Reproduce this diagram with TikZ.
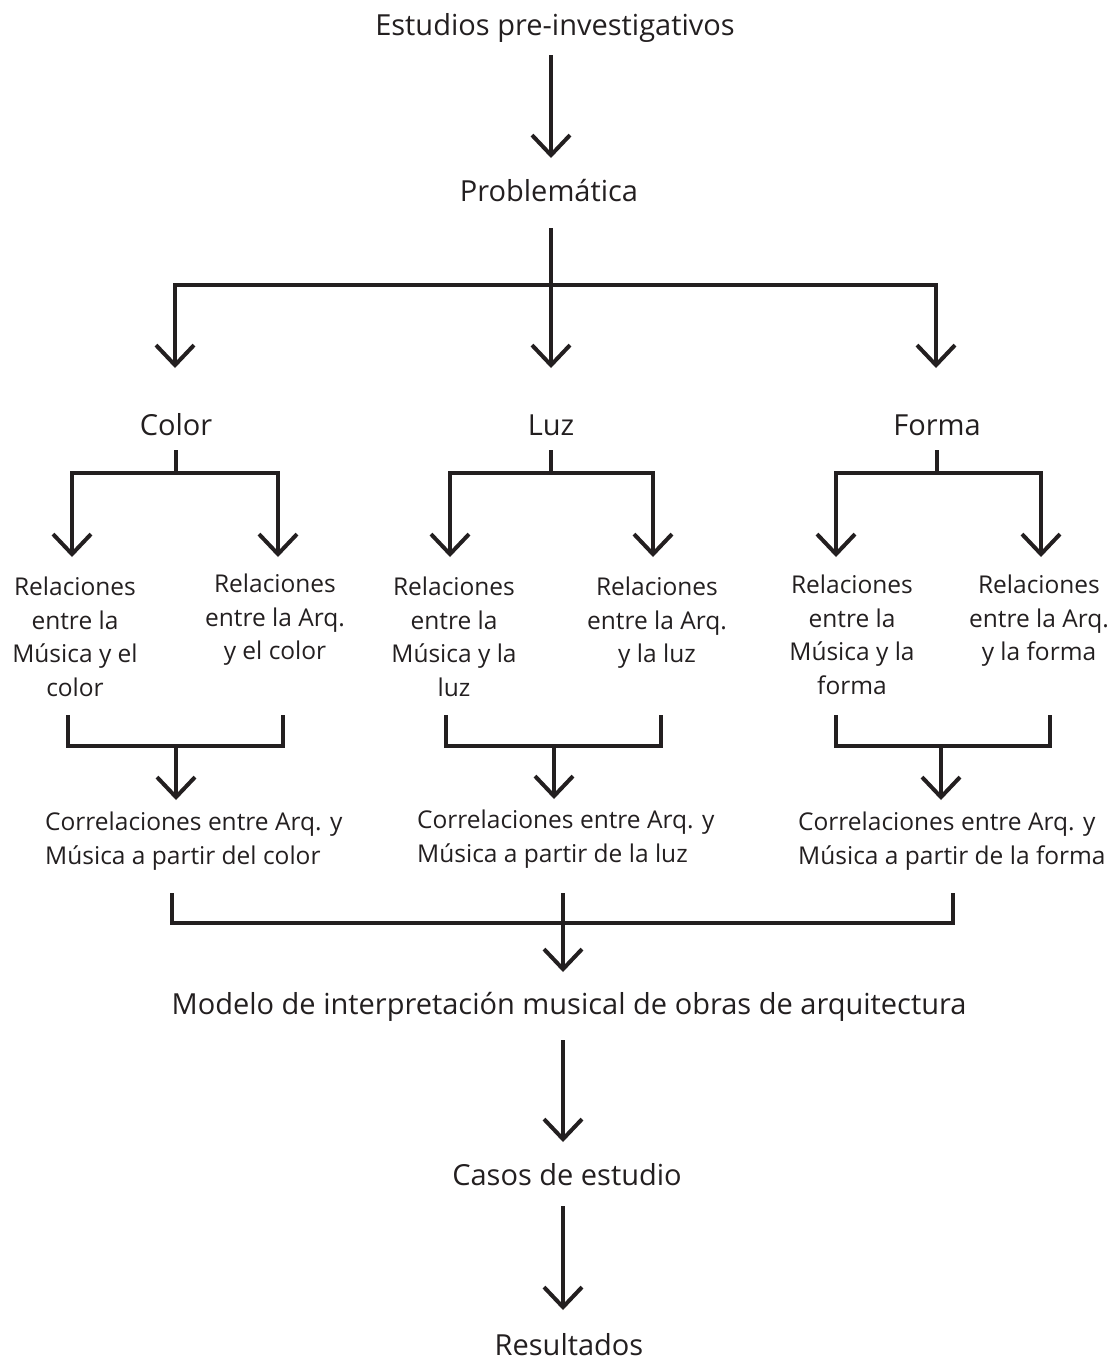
\documentclass[tikz,border=0pt]{standalone}
\usepackage{fontspec}
\setmainfont{Open Sans}
\usetikzlibrary{arrows.meta}
\definecolor{ink}{HTML}{231F20}
\begin{document}
\begin{tikzpicture}[x=1pt,y=-1pt,
  every node/.style={inner sep=0pt, text=ink},
  big/.style={font=\fontsize{29}{34}\selectfont, anchor=base},
  small/.style={font=\fontsize{24.5}{33.5}\selectfont, align=center, anchor=base},
  corr/.style={font=\fontsize{24.5}{33.5}\selectfont, align=left, anchor=base west},
  link/.style={draw=ink, line width=4pt, line join=miter},
  arr/.style={link, -{Straight Barb[length=20pt,width=38pt]}}]
\useasboundingbox (0,0) rectangle (1115,1361);

% labels (multi-line nodes are placed by the baseline of their last line)
\node[big] (est) at (555,35) {Estudios pre-investigativos};
\node[big] (prob) at (549,201) {Problemática};
\node[big] (color) at (176,435) {Color};
\node[big] (luz) at (551,435) {Luz};
\node[big] (forma) at (937,435) {Forma};
\node[small] (rmc) at (75,696) {Relaciones\\entre la\\Música y el\\color};
\node[small] (rac) at (275,659.5) {Relaciones\\entre la Arq.\\y el color};
\node[small] (rml) at (454,696) {Relaciones\\entre la\\Música y la\\luz};
\node[small] (ral) at (657,662.5) {Relaciones\\entre la Arq.\\y la luz};
\node[small] (rmf) at (852,694) {Relaciones\\entre la\\Música y la\\forma};
\node[small] (raf) at (1039,660.5) {Relaciones\\entre la Arq.\\y la forma};
\node[corr] (cc) at (45,864) {Correlaciones entre Arq. y\\Música a partir del color};
\node[corr] (cl) at (417,862) {Correlaciones entre Arq. y\\Música a partir de la luz};
\node[corr] (cf) at (798,864) {Correlaciones entre Arq. y\\Música a partir de la forma};
\node[big] (mod) at (569,1014) {Modelo de interpretación musical de obras de arquitectura};
\node[big] (casos) at (567,1185) {Casos de estudio};
\node[big] (res) at (569,1355) {Resultados};

% junction points
\coordinate (estOut) at (551,55);
\coordinate (probIn) at (551,158);
\coordinate (probOut) at (551,228);
\coordinate (hubA) at (551,285);
\coordinate (colorIn) at (175,368);
\coordinate (luzIn) at (551,368);
\coordinate (formaIn) at (936,368);

\coordinate (colorOut) at (176,450);
\coordinate (colorHub) at (176,473);
\coordinate (rmcIn) at (72,557);
\coordinate (racIn) at (278,557);
\coordinate (luzOut) at (551,450);
\coordinate (luzHub) at (551,473);
\coordinate (rmlIn) at (450,557);
\coordinate (ralIn) at (653,557);
\coordinate (formaOut) at (937,450);
\coordinate (formaHub) at (937,473);
\coordinate (rmfIn) at (836,557);
\coordinate (rafIn) at (1041,557);

\coordinate (rmcOut) at (68,715);
\coordinate (racOut) at (283,715);
\coordinate (ccHub) at (176,746);
\coordinate (ccIn) at (176,800);
\coordinate (rmlOut) at (446,715);
\coordinate (ralOut) at (661,715);
\coordinate (clHub) at (554,746);
\coordinate (clIn) at (554,799);
\coordinate (rmfOut) at (836,715);
\coordinate (rafOut) at (1050,715);
\coordinate (cfHub) at (941,746);
\coordinate (cfIn) at (941,800);

\coordinate (ccOut) at (172,893);
\coordinate (cfOut) at (953,893);
\coordinate (clOut) at (563,893);
\coordinate (modHub) at (563,923);
\coordinate (modIn) at (563,972);
\coordinate (modOut) at (563,1040);
\coordinate (casosIn) at (563,1142);
\coordinate (casosOut) at (563,1206);
\coordinate (resIn) at (563,1310);

% connectors
\draw[arr] (estOut) -- (probIn);
\draw[arr] (probOut) -- (luzIn);
\draw[arr] (hubA) -| (colorIn);
\draw[arr] (hubA) -| (formaIn);

\draw[link] (colorOut) -- (colorHub);
\draw[arr] (colorHub) -| (rmcIn);
\draw[arr] (colorHub) -| (racIn);
\draw[link] (luzOut) -- (luzHub);
\draw[arr] (luzHub) -| (rmlIn);
\draw[arr] (luzHub) -| (ralIn);
\draw[link] (formaOut) -- (formaHub);
\draw[arr] (formaHub) -| (rmfIn);
\draw[arr] (formaHub) -| (rafIn);

\draw[link] (rmcOut) |- (ccHub) -| (racOut);
\draw[arr] (ccHub) -- (ccIn);
\draw[link] (rmlOut) |- (clHub) -| (ralOut);
\draw[arr] (clHub) -- (clIn);
\draw[link] (rmfOut) |- (cfHub) -| (rafOut);
\draw[arr] (cfHub) -- (cfIn);

\draw[link] (ccOut) |- (modHub) -| (cfOut);
\draw[arr] (clOut) -- (modIn);
\draw[arr] (modOut) -- (casosIn);
\draw[arr] (casosOut) -- (resIn);
\end{tikzpicture}
\end{document}
